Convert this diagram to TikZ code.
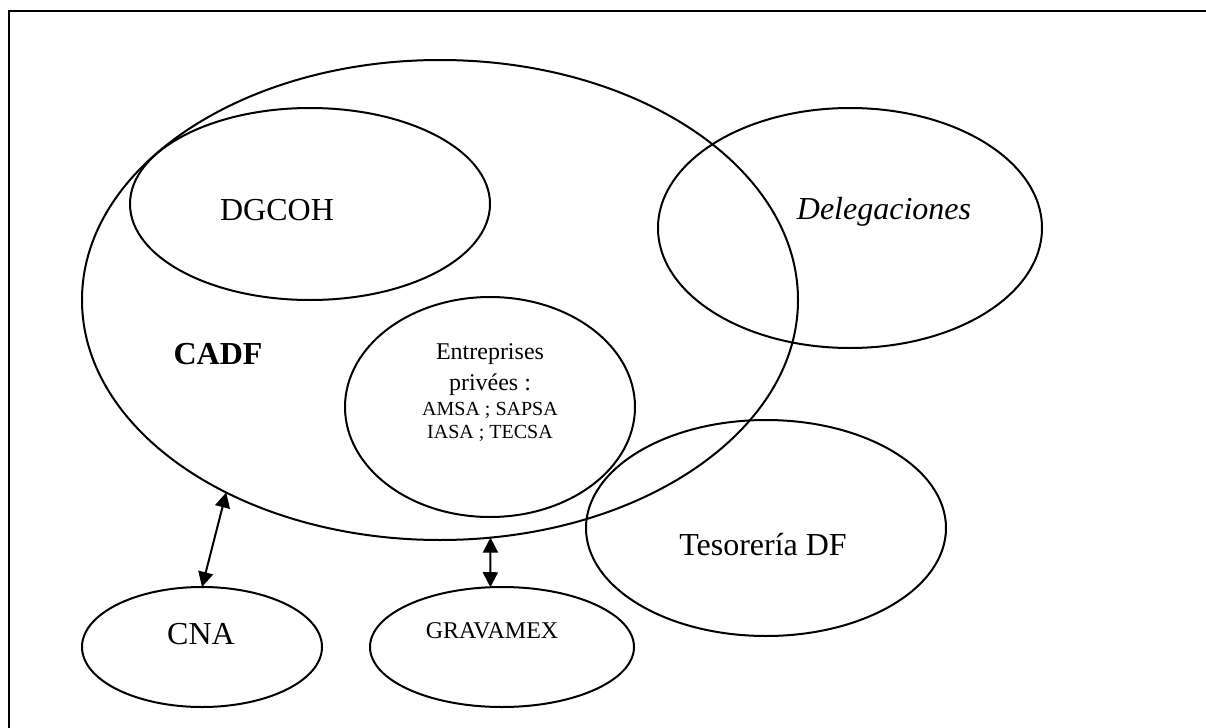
\documentclass[tikz,border=0pt]{standalone}
\usepackage{fontspec}
\setmainfont{Liberation Serif}
\usetikzlibrary{shapes.geometric,arrows.meta}

\begin{document}
\begin{tikzpicture}[x=0.5pt,y=-0.5pt,line width=1pt,
    zone/.style={draw,ellipse,inner sep=0pt,outer sep=0pt},
    big/.style={inner sep=0pt,anchor=base,font=\fontsize{16}{19}\selectfont},
    both/.style={{Triangle[length=7.5pt,width=7.5pt]}-{Triangle[length=7.5pt,width=7.5pt]}}]
    \useasboundingbox (0,0) rectangle (1206,728);
    \draw[line width=1.2pt] (9,760) -- (9,11) -- (1240,11);
    \node[zone,minimum width=358pt,minimum height=240pt] (cadf) at (440,300) {};
    \node[zone,minimum width=180pt,minimum height=96pt] (dgcoh) at (310,204) {};
    \node[zone,minimum width=192pt,minimum height=120pt] (deleg) at (850,228) {};
    \node[zone,minimum width=145pt,minimum height=110pt] (entr) at (490,407) {};
    \node[zone,minimum width=180pt,minimum height=108pt] (teso) at (766,528) {};
    \node[zone,minimum width=120pt,minimum height=60pt] (cna) at (202,647) {};
    \node[zone,minimum width=132pt,minimum height=60pt] (grav) at (502,647) {};
    \node[big] (dgcohtxt) at (277,220) {DGCOH};
    \node[big,font=\fontsize{16}{19}\selectfont\bfseries] (cadftxt) at (218,364) {CADF};
    \node[big,font=\fontsize{16}{19}\selectfont\itshape] (delegtxt) at (884,219) {Delegaciones};
    \node[big] (tesotxt) at (763,555) {Tesorería DF};
    \node[big] (cnatxt) at (201,644) {CNA};
    \node[big,font=\fontsize{12}{14}\selectfont] (gravtxt) at (492,638) {GRAVAMEX};
    \node[inner sep=0pt,align=center,font=\fontsize{12}{15.5}\selectfont] (entrtxt) at (490,393)
      {Entreprises\\privées :\\[-3pt]{\fontsize{10}{11.5}\selectfont AMSA ; SAPSA}\\[-4pt]{\fontsize{10}{11.5}\selectfont IASA ; TECSA}};
    \draw[both] (cadf.222) -- (cna.north);
    \draw[both] (cadf.-78) -- (grav.101);
  \end{tikzpicture}
\end{document}
